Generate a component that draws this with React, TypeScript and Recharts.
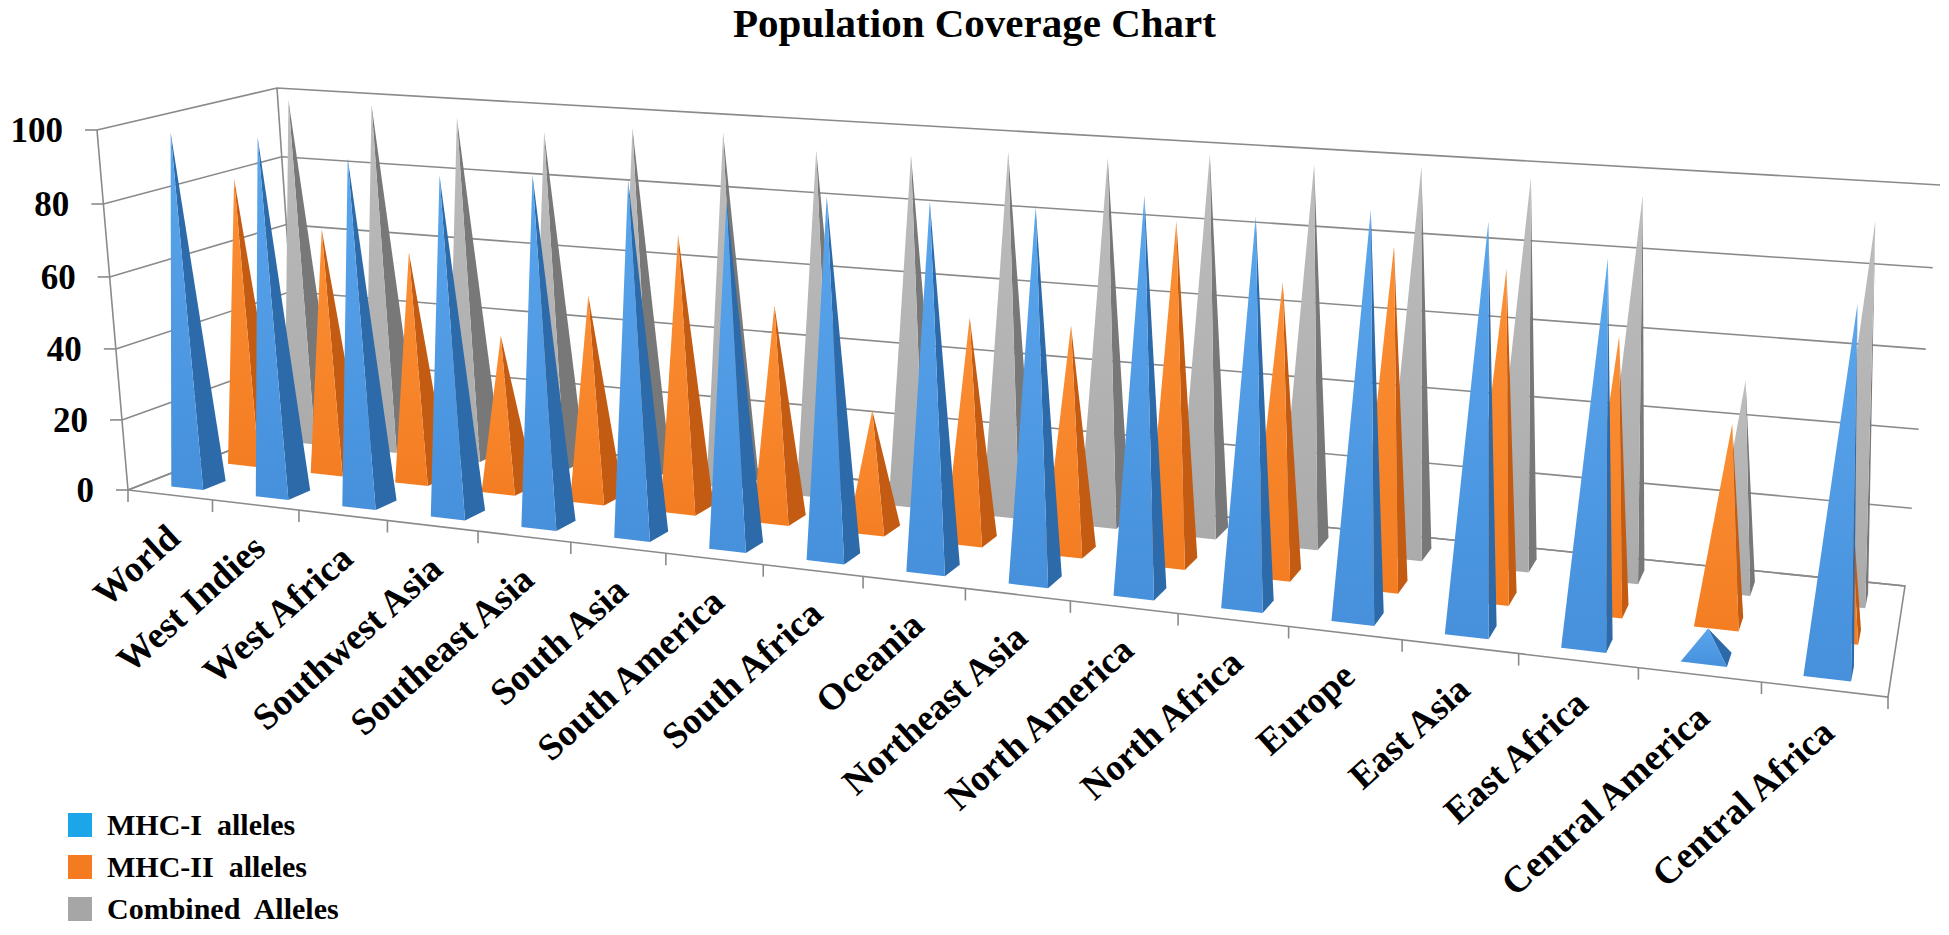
import React from "react";
import { Bar, BarChart, CartesianGrid, XAxis, YAxis } from "recharts";

const REGIONS = [
  "World",
  "West Indies",
  "West Africa",
  "Southwest Asia",
  "Southeast Asia",
  "South Asia",
  "South America",
  "South Africa",
  "Oceania",
  "Northeast Asia",
  "North America",
  "North Africa",
  "Europe",
  "East Asia",
  "East Africa",
  "Central America",
  "Central Africa",
];
const MHC_I = [98.3, 98.6, 94.6, 91.7, 93.6, 94.0, 90.6, 93.3, 93.9, 94.5, 99.0, 95.8, 99.3, 98.4, 91.8, 7.0, 85.7];
const MHC_II = [81.3, 68.9, 64.4, 43.3, 56.6, 75.0, 58.1, 32.3, 59.2, 59.3, 87.9, 74.6, 85.4, 81.9, 67.7, 48.9, 40.0];
const COMBINED = [99.3, 99.3, 97.1, 94.6, 97.3, 97.5, 94.4, 94.6, 97.1, 97.1, 99.6, 98.6, 99.8, 98.6, 96.0, 52.4, 93.4];
const Y_TICKS = [0, 20, 40, 60, 80, 100];

const FONT = '"Liberation Serif", "Times New Roman", serif';
const GRID = "#8a8a8a";

type Series = {
  key: string;
  name: string;
  depth: number; // row position front (0) -> back (1)
  top: string;
  front: string;
  side: string;
  swatch: string;
};

const SERIES: Series[] = [
  { key: "mhc1", name: "MHC-I  alleles", depth: 1 / 6, top: "#5aa6ec", front: "#4690dc", side: "#2d6aa9", swatch: "#1aa6e8" },
  { key: "mhc2", name: "MHC-II  alleles", depth: 1 / 2, top: "#fb8f35", front: "#f47d22", side: "#c35c12", swatch: "#f47b20" },
  { key: "combined", name: "Combined  Alleles", depth: 5 / 6, top: "#bdbdbd", front: "#ababab", side: "#787878", swatch: "#a6a6a6" },
];

const ROWS = REGIONS.map((region, i) => ({
  region,
  mhc1: MHC_I[i],
  mhc2: MHC_II[i],
  combined: COMBINED[i],
}));

// flat layout used by recharts; everything is then projected into the 3D box
const W = 1949;
const H = 935;
const MARGIN = { top: 100, right: 100, bottom: 250, left: 68 };
const Y_AXIS_W = 60;
const X_AXIS_H = 60;
const PLOT_L = MARGIN.left + Y_AXIS_W;
const PLOT_R = W - MARGIN.right;
const PLOT_T = MARGIN.top;
const PLOT_B = H - MARGIN.bottom - X_AXIS_H;

const toU = (x: number) => (x - PLOT_L) / (PLOT_R - PLOT_L);
const toV = (y: number) => (PLOT_B - y) / (PLOT_B - PLOT_T);

type Pt = [number, number];

// unit square -> quad (perspective)
function quadMap(lb: Pt, rb: Pt, rt: Pt, lt: Pt) {
  const [x0, y0] = lb;
  const [x1, y1] = rb;
  const [x2, y2] = rt;
  const [x3, y3] = lt;
  const dx1 = x1 - x2, dx2 = x3 - x2, dx3 = x0 - x1 + x2 - x3;
  const dy1 = y1 - y2, dy2 = y3 - y2, dy3 = y0 - y1 + y2 - y3;
  const den = dx1 * dy2 - dx2 * dy1;
  const g = (dx3 * dy2 - dx2 * dy3) / den;
  const h = (dx1 * dy3 - dx3 * dy1) / den;
  const a = x1 - x0 + g * x1, b = x3 - x0 + h * x3;
  const d = y1 - y0 + g * y1, e = y3 - y0 + h * y3;
  return (u: number, v: number): Pt => {
    const q = g * u + h * v + 1;
    return [(a * u + b * v + x0) / q, (d * u + e * v + y0) / q];
  };
}

const FRONT = quadMap([128, 490], [1888, 697], [1925, 256], [97, 130]);
const BACK = quadMap([300, 423], [1905, 586], [1940, 185], [277, 88]);

function project(u: number, v: number, w: number): Pt {
  const f = FRONT(u, v);
  const b = BACK(u, v);
  return [f[0] + (b[0] - f[0]) * w, f[1] + (b[1] - f[1]) * w];
}

const pts = (list: Pt[]) => list.map((p) => `${p[0].toFixed(1)},${p[1].toFixed(1)}`).join(" ");

function WallLine(props: any) {
  const v = toV(props.y1);
  const line = [project(0, v, 0), project(0, v, 1), project(1, v, 1)];
  return (
    <g key={`wall-${props.index}`}>
      <polyline points={pts(line)} fill="none" stroke={GRID} strokeWidth={1.6} />
      {props.index === 0 && (
        <g fill="none" stroke={GRID} strokeWidth={1.6}>
          <polyline points={pts([project(0, 0, 1), project(0, 0, 0), project(1, 0, 0), project(1, 0, 1), project(0, 0, 1)])} />
          <polyline points={pts([project(0, 0, 0), project(0, 1, 0)])} />
          <polyline points={pts([project(0, 0, 1), project(0, 1, 1)])} />
        </g>
      )}
    </g>
  );
}

function RegionTick(props: any) {
  const { x, payload, index } = props;
  const u = toU(x);
  const half = 0.5 / REGIONS.length;
  const [bx, by] = project(u - half, 0, 0);
  const [ex, ey] = project(u + half, 0, 0);
  const [cx, cy] = project(u, 0, 0);
  const lx = cx + 12;
  const ly = cy + 46;
  return (
    <g>
      <line x1={bx} y1={by} x2={bx} y2={by + 12} stroke={GRID} strokeWidth={1.6} />
      {index === REGIONS.length - 1 && <line x1={ex} y1={ey} x2={ex} y2={ey + 12} stroke={GRID} strokeWidth={1.6} />}
      <text
        x={lx}
        y={ly}
        transform={`rotate(-42 ${lx} ${ly})`}
        textAnchor="end"
        fontFamily={FONT}
        fontWeight="bold"
        fontSize={37}
        fill="#000"
      >
        {payload.value}
      </text>
    </g>
  );
}

function ValueTick(props: any) {
  const { y, payload } = props;
  const [px, py] = project(0, toV(y), 0);
  return (
    <g>
      <line x1={px - 12} y1={py} x2={px} y2={py} stroke={GRID} strokeWidth={1.6} />
      <text x={px - 34} y={py} dy="0.35em" textAnchor="end" fontFamily={FONT} fontWeight="bold" fontSize={35} fill="#000">
        {payload.value}
      </text>
    </g>
  );
}

function pyramid(series: Series) {
  return (props: any) => {
    const { x, y, width, index } = props;
    const u = toU(x + width / 2);
    const v = toV(y);
    const hu = 0.19 / REGIONS.length;
    const hw = 0.067;
    const w = series.depth;
    const apex = project(u, v, w);
    const fl = project(u - hu, 0, w - hw);
    const fr = project(u + hu, 0, w - hw);
    const br = project(u + hu, 0, w + hw);
    const gid = `face-${series.key}`;
    return (
      <g>
        {index === 0 && (
          <defs>
            <linearGradient id={gid} x1="0" y1="0" x2="0" y2="1">
              <stop offset="0%" stopColor={series.top} />
              <stop offset="100%" stopColor={series.front} />
            </linearGradient>
          </defs>
        )}
        <polygon points={pts([fr, br, apex])} fill={series.side} />
        <polygon points={pts([fl, fr, apex])} fill={`url(#${gid})`} />
      </g>
    );
  };
}

export default function App() {
  // back rows first so the front row is painted over them
  const drawOrder = [...SERIES].reverse();
  return (
    <div style={{ position: "relative", width: W, height: H, background: "#fff", fontFamily: FONT }}>
      <style>{"body{margin:0}"}</style>
      <BarChart width={W} height={H} data={ROWS} margin={MARGIN} barSize={6} barGap={-6}>
        <CartesianGrid vertical={false} horizontal={WallLine} />
        <XAxis
          dataKey="region"
          height={X_AXIS_H}
          interval={0}
          axisLine={false}
          tickLine={false}
          tick={RegionTick}
        />
        <YAxis
          width={Y_AXIS_W}
          domain={[0, 100]}
          ticks={Y_TICKS}
          interval={0}
          axisLine={false}
          tickLine={false}
          tick={ValueTick}
        />
        {drawOrder.map((s) => (
          <Bar key={s.key} dataKey={s.key} name={s.name} fill={s.front} isAnimationActive={false} shape={pyramid(s)} />
        ))}
      </BarChart>
      <div
        style={{
          position: "absolute",
          left: 0,
          top: 2,
          width: W,
          textAlign: "center",
          fontSize: 41,
          lineHeight: "42px",
          fontWeight: "bold",
        }}
      >
        Population Coverage Chart
      </div>
      <div style={{ position: "absolute", left: 68, top: 804 }}>
        {SERIES.map((s) => (
          <div key={s.key} style={{ display: "flex", alignItems: "center", height: 42 }}>
            <span style={{ width: 24, height: 24, background: s.swatch, marginRight: 15 }} />
            <span style={{ fontSize: 30, fontWeight: "bold", whiteSpace: "pre", lineHeight: "34px" }}>{s.name}</span>
          </div>
        ))}
      </div>
    </div>
  );
}
